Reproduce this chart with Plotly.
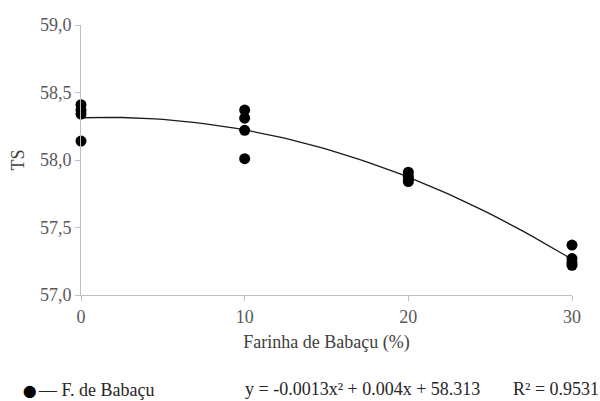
import plotly.graph_objects as go

# Data
x_levels = [0, 0, 0, 0, 10, 10, 10, 10, 20, 20, 20, 20, 30, 30, 30, 30]
ts_values = [58.41, 58.37, 58.34, 58.14,
             58.37, 58.31, 58.22, 58.01,
             57.91, 57.88, 57.86, 57.84,
             57.37, 57.27, 57.24, 57.22]

# Quadratic trendline coefficients as shown in the chart: y = a x^2 + b x + c
coef_a, coef_b, coef_c = -0.0013, 0.004, 58.313
x_fit = [i * 0.5 for i in range(61)]
y_fit = [coef_a * v * v + coef_b * v + coef_c for v in x_fit]

y_ticks = [57.0, 57.5, 58.0, 58.5, 59.0]
x_ticks = [0, 10, 20, 30]

FONT = "'Liberation Serif', 'Times New Roman', Times, serif"
FS = 18

fig = go.Figure()
fig.add_trace(go.Scatter(x=x_fit, y=y_fit, mode="lines",
                         line=dict(color="#1a1a1a", width=1.3),
                         showlegend=False, hoverinfo="skip"))
fig.add_trace(go.Scatter(x=x_levels, y=ts_values, mode="markers",
                         marker=dict(color="black", size=11),
                         cliponaxis=False, showlegend=False))

L, R, T, B = 81, 28, 25, 106

fig.update_layout(
    width=600, height=401,
    margin=dict(l=L, r=R, t=T, b=B),
    paper_bgcolor="white", plot_bgcolor="white",
    separators=",.",
    font=dict(family=FONT, size=FS, color="#595959"),
    xaxis=dict(range=[0, 30], tickvals=x_ticks, showgrid=False, zeroline=False,
               showline=True, linecolor="#bfbfbf", linewidth=1,
               ticks="outside", ticklen=5, tickcolor="#bfbfbf",
               tickfont=dict(family=FONT, size=FS, color="#595959"),
               title=dict(text="Farinha de Babaçu (%)", standoff=9,
                          font=dict(family=FONT, size=FS, color="#404040"))),
    yaxis=dict(range=[57, 59], tickvals=y_ticks, tickformat=".1f",
               showgrid=False, zeroline=False,
               showline=True, linecolor="#bfbfbf", linewidth=1,
               ticks="outside", ticklen=5, tickcolor="#bfbfbf",
               tickfont=dict(family=FONT, size=FS, color="#595959"),
               title=dict(text="TS", standoff=10,
                          font=dict(family=FONT, size=FS, color="#404040"))),
)

annots = [
    dict(px=21, py=391, text="⬤", size=12, color="black", family="DejaVu Sans"),
    dict(px=36, py=390, text="— F. de Babaçu", size=FS, color="#262626", family=FONT),
    dict(px=243, py=389, text="y = -0.0013x² + 0.004x + 58.313", size=FS, color="#262626", family=FONT),
    dict(px=511, py=389, text="R² = 0.9531", size=FS, color="#262626", family=FONT),
]
for a in annots:
    fig.add_annotation(
        xref="paper", yref="paper",
        x=(a["px"] - L) / (600 - L - R),
        y=(401 - B - a["py"]) / (401 - T - B),
        text=a["text"], showarrow=False, xanchor="left", yanchor="middle",
        font=dict(family=a["family"], size=a["size"], color=a["color"]))

fig.write_html("out.html")
